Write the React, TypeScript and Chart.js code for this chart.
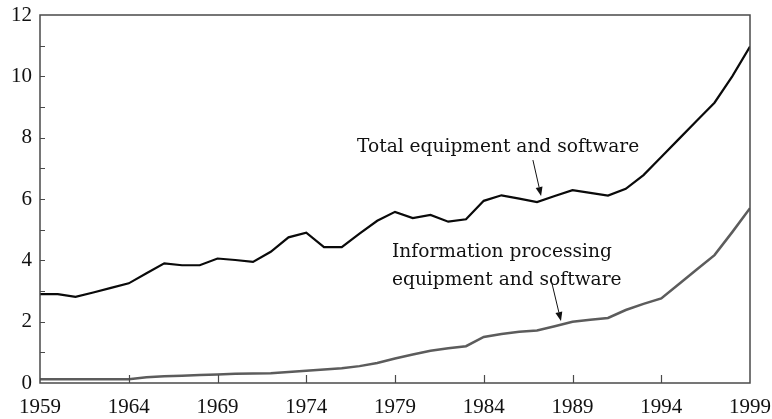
import { useEffect, useRef } from 'react';
import { Chart, registerables } from 'chart.js';

Chart.register(...registerables);

const years = [
  1959, 1960, 1961, 1962, 1963, 1964, 1965, 1966, 1967, 1968,
  1969, 1970, 1971, 1972, 1973, 1974, 1975, 1976, 1977, 1978,
  1979, 1980, 1981, 1982, 1983, 1984, 1985, 1986, 1987, 1988,
  1989, 1990, 1991, 1992, 1993, 1994, 1995, 1996, 1997, 1998, 1999,
];

const totalEquipment = [
  2.9, 2.9, 2.81, 2.95, 3.1, 3.25, 3.58, 3.9, 3.84, 3.84,
  4.06, 4.01, 3.95, 4.28, 4.75, 4.9, 4.43, 4.43, 4.87, 5.29,
  5.58, 5.38, 5.48, 5.26, 5.34, 5.94, 6.12, 6.01, 5.9, 6.1,
  6.29, 6.2, 6.11, 6.33, 6.78, 7.37, 7.96, 8.55, 9.14, 10.0, 10.97,
];

const infoProcessing = [
  0.12, 0.12, 0.12, 0.12, 0.12, 0.12, 0.19, 0.22, 0.24, 0.26,
  0.28, 0.3, 0.31, 0.32, 0.36, 0.4, 0.44, 0.48, 0.55, 0.65,
  0.8, 0.93, 1.05, 1.13, 1.2, 1.5, 1.6, 1.67, 1.71, 1.85,
  2.0, 2.06, 2.12, 2.38, 2.58, 2.76, 3.23, 3.7, 4.17, 4.92, 5.7,
];

const xTickValues = [1959, 1964, 1969, 1974, 1979, 1984, 1989, 1994, 1999];
const yLabelValues = [0, 2, 4, 6, 8, 10, 12];

const totalLabel = 'Total equipment and software';
const infoLabel = ['Information processing', 'equipment and software'];

const TICK_FONT = "'Liberation Serif', 'Times New Roman', serif";
const NOTE_FONT = "'DejaVu Serif', 'Liberation Serif', serif";

function drawArrow(ctx: CanvasRenderingContext2D, x1: number, y1: number, x2: number, y2: number) {
  ctx.save();
  ctx.strokeStyle = '#111';
  ctx.fillStyle = '#111';
  ctx.lineWidth = 1;
  const ang = Math.atan2(y2 - y1, x2 - x1);
  const hl = 9;
  const hw = 3.5;
  const bx = x2 - hl * Math.cos(ang);
  const by = y2 - hl * Math.sin(ang);
  ctx.beginPath();
  ctx.moveTo(x1, y1);
  ctx.lineTo(bx, by);
  ctx.stroke();
  ctx.beginPath();
  ctx.moveTo(x2, y2);
  ctx.lineTo(bx + hw * Math.sin(ang), by - hw * Math.cos(ang));
  ctx.lineTo(bx - hw * Math.sin(ang), by + hw * Math.cos(ang));
  ctx.closePath();
  ctx.fill();
  ctx.restore();
}

const framePlugin = {
  id: 'frameAndNotes',
  afterDraw(chart: any) {
    const { ctx, chartArea, scales } = chart;
    const xs = scales.x;
    const ys = scales.y;
    ctx.save();
    // frame
    ctx.strokeStyle = '#4a4a4a';
    ctx.lineWidth = 1.5;
    ctx.strokeRect(chartArea.left, chartArea.top, chartArea.right - chartArea.left, chartArea.bottom - chartArea.top);
    // x ticks (inward)
    ctx.beginPath();
    xTickValues.forEach((v) => {
      if (v === xs.min || v === xs.max) return;
      const px = Math.round(xs.getPixelForValue(v)) + 0.5;
      ctx.moveTo(px, chartArea.bottom);
      ctx.lineTo(px, chartArea.bottom - 8);
    });
    // y ticks (inward)
    ys.ticks.forEach((t: any) => {
      if (t.value === ys.min || t.value === ys.max) return;
      const py = Math.round(ys.getPixelForValue(t.value)) + 0.5;
      ctx.moveTo(chartArea.left, py);
      ctx.lineTo(chartArea.left + 5, py);
    });
    ctx.lineWidth = 1.2;
    ctx.stroke();

    // annotations
    ctx.fillStyle = '#111';
    ctx.font = `18.6px ${NOTE_FONT}`;
    ctx.textAlign = 'left';
    ctx.textBaseline = 'alphabetic';
    ctx.fillText(totalLabel, xs.getPixelForValue(1976.86), ys.getPixelForValue(7.53));
    ctx.fillText(infoLabel[0], xs.getPixelForValue(1978.83), ys.getPixelForValue(4.11));
    ctx.fillText(infoLabel[1], xs.getPixelForValue(1978.83), ys.getPixelForValue(3.2));

    drawArrow(ctx, xs.getPixelForValue(1986.77), ys.getPixelForValue(7.27), xs.getPixelForValue(1987.23), ys.getPixelForValue(6.1));
    drawArrow(ctx, xs.getPixelForValue(1987.85), ys.getPixelForValue(3.23), xs.getPixelForValue(1988.35), ys.getPixelForValue(2.02));
    ctx.restore();
  },
};

export default function App() {
  const canvasRef = useRef<HTMLCanvasElement | null>(null);

  useEffect(() => {
    const canvas = canvasRef.current;
    if (!canvas) return;
    const zeroPad = (scale: any) => {
      scale.paddingTop = 0;
      scale.paddingBottom = 0;
      scale.paddingLeft = 0;
      scale.paddingRight = 0;
    };
    const chart = new Chart(canvas, {
      type: 'line',
      data: {
        datasets: [
          {
            label: 'Total equipment and software',
            data: years.map((yr, i) => ({ x: yr, y: totalEquipment[i] })),
            borderColor: '#0a0a0a',
            borderWidth: 2.2,
            pointRadius: 0,
            tension: 0,
            fill: false,
          },
          {
            label: 'Information processing equipment and software',
            data: years.map((yr, i) => ({ x: yr, y: infoProcessing[i] })),
            borderColor: '#5c5c5c',
            borderWidth: 2.5,
            pointRadius: 0,
            tension: 0,
            fill: false,
          },
        ],
      },
      options: {
        responsive: false,
        animation: false,
        events: [],
        layout: { padding: { top: 15, right: 22, left: 0, bottom: 0 } },
        plugins: {
          legend: { display: false },
          tooltip: { enabled: false },
          title: { display: false },
        },
        scales: {
          x: {
            type: 'linear',
            min: 1959,
            max: 1999,
            grid: { display: false, drawTicks: false },
            border: { display: false },
            afterBuildTicks: (scale: any) => {
              scale.ticks = xTickValues.map((v) => ({ value: v }));
            },
            afterFit: (scale: any) => {
              scale.height = 36;
              zeroPad(scale);
            },
            ticks: {
              autoSkip: false,
              maxRotation: 0,
              padding: 12,
              color: '#111',
              font: { family: TICK_FONT, size: 21 },
              callback: (v: any) => String(v),
            },
          },
          y: {
            type: 'linear',
            min: 0,
            max: 12,
            grid: { display: false, drawTicks: false },
            border: { display: false },
            afterFit: (scale: any) => {
              scale.width = 40;
              zeroPad(scale);
            },
            ticks: {
              stepSize: 1,
              autoSkip: false,
              padding: 8,
              color: '#111',
              font: { family: TICK_FONT, size: 21 },
              callback: (v: any) => (yLabelValues.includes(Number(v)) ? String(v) : ''),
            },
          },
        },
      },
      plugins: [framePlugin],
    } as any);
    return () => chart.destroy();
  }, []);

  return (
    <div style={{ position: 'absolute', left: 0, top: 0, width: 772, height: 419, background: '#fff' }}>
      <canvas ref={canvasRef} width={772} height={419} style={{ display: 'block' }} />
    </div>
  );
}
